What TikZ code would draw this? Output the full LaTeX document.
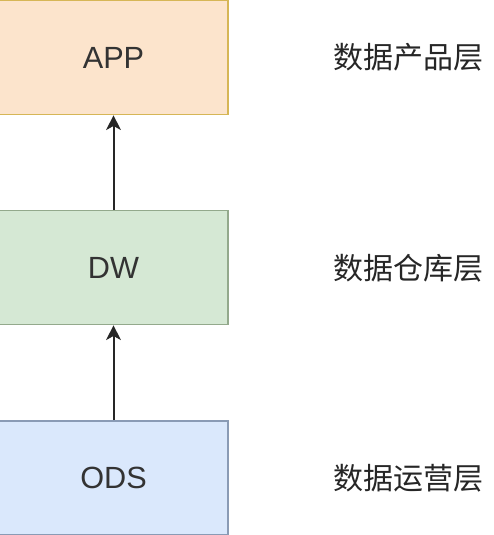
\documentclass[tikz,border=0pt]{standalone}
\usepackage{fontspec}
\setmainfont{Liberation Sans}
\newfontfamily\cjk{Noto Sans CJK SC}
\usetikzlibrary{arrows.meta}
\definecolor{appfill}{HTML}{FCE4CC}
\definecolor{appline}{HTML}{D6B656}
\definecolor{dwfill}{HTML}{D5E8D4}
\definecolor{dwline}{HTML}{93A98C}
\definecolor{odsfill}{HTML}{DAE8FC}
\definecolor{odsline}{HTML}{8A9BB5}
\definecolor{txt}{HTML}{333333}
\tikzset{
  layer/.style={draw, line width=1.2pt, minimum width=171.75pt, minimum height=85.5pt,
    font=\fontsize{23}{27}\selectfont, text=txt, inner sep=0pt},
  layername/.style={font=\cjk\fontsize{22.5}{26}\selectfont, text=black!85},
  up/.style={-{Stealth[length=11pt,width=11pt,inset=3pt]}, line width=1.5pt, draw=black!85}
}
\begin{document}
\begin{tikzpicture}[x=0.75pt,y=-0.75pt]
      \useasboundingbox (0,0) rectangle (493,535);
      \begin{scope}
      \clip (0,0) rectangle (493,535);
      \node[layer,fill=appfill,draw=appline](app) at (113.5,57.5){APP};
      \node[layer,fill=dwfill,draw=dwline](dw) at (113.5,267.5){DW};
      \node[layer,fill=odsfill,draw=odsline](ods) at (113.5,478){ODS};
      \end{scope}
      \draw[up](dw.north)--(app.south);
      \draw[up](ods.north)--(dw.south);
      \node[layername](appname) at (408,57){数据产品层};
      \node[layername](dwname) at (408,268){数据仓库层};
      \node[layername](odsname) at (408,478){数据运营层};
    \end{tikzpicture}
\end{document}
